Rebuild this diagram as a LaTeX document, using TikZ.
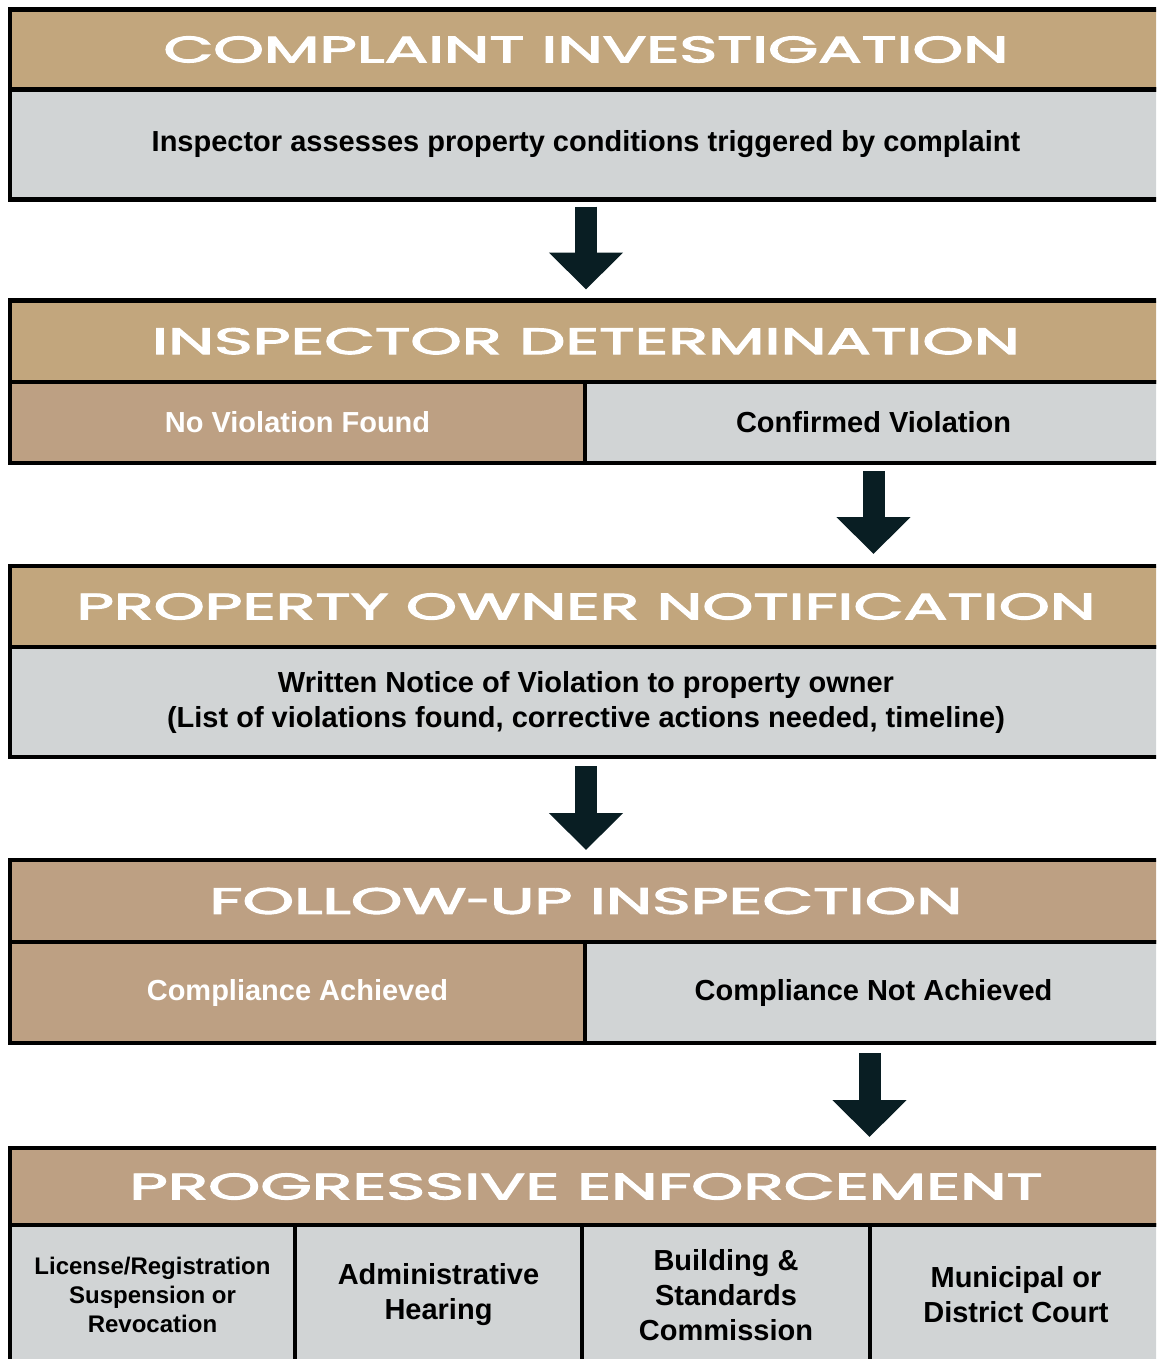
\documentclass[tikz,border=0pt]{standalone}
\usepackage{fontspec}
\usepackage{graphicx}
\setmainfont{Liberation Sans}
\newfontfamily\bannerfont{Poppins}[LetterSpace=0, FakeBold=2.5]
\usetikzlibrary{positioning, arrows.meta}

\definecolor{tanhead}{RGB}{194,166,125}
\definecolor{tanrose}{RGB}{189,160,131}
\definecolor{panelgray}{RGB}{209,212,213}
\definecolor{arrowink}{RGB}{9,30,35}

% banner text stretched to the measured width, 26pt caps
\newcommand{\bannerline}[2]{\resizebox{#1pt}{26pt}{\bannerfont #2}}

\begin{document}
\begin{tikzpicture}[x=1pt, y=-1pt,
    box/.style={draw=black, line width=4.5pt, inner sep=0pt, outer sep=0pt,
        anchor=north west, align=center},
    banner/.style={box, fill=#1, text=white, minimum width=1152pt},
    banner/.default=tanhead,
    panel/.style={box, fill=panelgray, text=black, font=\bfseries\fontsize{29}{35}\selectfont},
    tanpanel/.style={panel, fill=tanrose, text=white},
    bigarrow/.style={draw=arrowink, line width=22pt,
        -{Triangle[length=37pt, width=72pt]}}]
    %
    \clip (0,0) rectangle (1156,1359);
    %
    \node [banner, minimum height=80pt] (h1) at (10,9.5)
        {\bannerline{845}{COMPLAINT INVESTIGATION}};
    \node [panel, below=0pt of h1, minimum width=1152pt, minimum height=110pt] (b1)
        {Inspector assesses property conditions triggered by complaint};
    %
    \node [banner, minimum height=81.5pt] (h2) at (10,300.5)
        {\bannerline{868}{INSPECTOR DETERMINATION}};
    \node [tanpanel, minimum width=575pt, minimum height=81pt] (nv) at (h2.south west)
        {No Violation Found};
    \node [panel, right=0pt of nv, minimum width=577pt, minimum height=81pt] (cv)
        {Confirmed Violation};
    %
    \node [banner, minimum height=81pt] (h3) at (10,566)
        {\bannerline{1019}{PROPERTY OWNER NOTIFICATION}};
    \node [panel, below=0pt of h3, minimum width=1152pt, minimum height=110pt] (b3)
        {Written Notice of Violation to property owner\\
         (List of violations found, corrective actions needed, timeline)};
    %
    \node [banner=tanrose, minimum height=82pt] (h4) at (10,860)
        {\bannerline{753}{FOLLOW\scalebox{0.65}[1]{-}UP INSPECTION}};
    \node [tanpanel, minimum width=575pt, minimum height=101pt] (ca) at (h4.south west)
        {Compliance Achieved};
    \node [panel, right=0pt of ca, minimum width=577pt, minimum height=101pt] (cn)
        {Compliance Not Achieved};
    %
    \node [banner=tanrose, minimum height=77pt] (h5) at (10,1148)
        {\bannerline{913}{PROGRESSIVE ENFORCEMENT}};
    \node [panel, minimum width=285pt, minimum height=140pt,
        font=\bfseries\fontsize{24}{29}\selectfont] (lic) at (h5.south west)
        {License/Registration\\Suspension or\\Revocation};
    \node [panel, right=0pt of lic, minimum width=287pt, minimum height=140pt] (ah)
        {Administrative\\Hearing};
    \node [panel, right=0pt of ah, minimum width=288pt, minimum height=140pt] (bs)
        {Building \&\\Standards\\Commission};
    \node [panel, right=0pt of bs, minimum width=292pt, minimum height=140pt] (mc)
        {Municipal or\\District Court};
    %
    \draw [bigarrow, shorten <=7pt, shorten >=11pt] (b1.south) -- (h2.north);
    \draw [bigarrow, shorten <=8pt, shorten >=12pt] (cv.south) -- (cv.south |- h3.north);
    \draw [bigarrow, shorten <=9pt, shorten >=10pt] (b3.south) -- (h4.north);
    \draw [bigarrow, shorten <=10pt, shorten >=11pt] ([xshift=-4pt]cn.south)
        -- ([xshift=-4pt]cn.south |- h5.north);
\end{tikzpicture}
\end{document}
